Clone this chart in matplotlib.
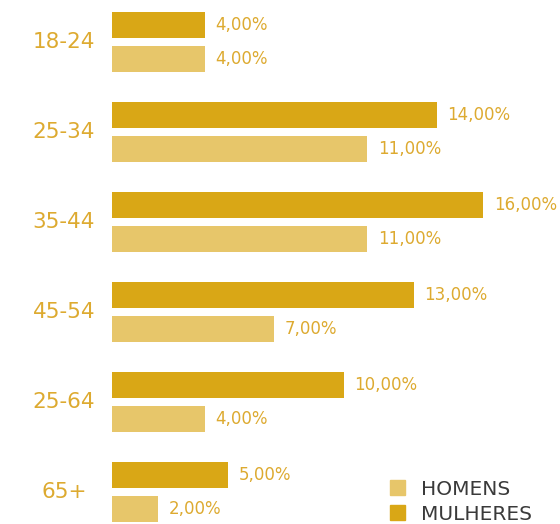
import numpy as np
import matplotlib.pyplot as plt
from matplotlib.patches import Patch
from matplotlib.transforms import blended_transform_factory

faixas = ["18-24", "25-34", "35-44", "45-54", "25-64", "65+"]
mulheres = [4.0, 14.0, 16.0, 13.0, 10.0, 5.0]
homens = [4.0, 11.0, 11.0, 7.0, 4.0, 2.0]

COR_M = "#D9A716"
COR_H = "#E7C66A"
COR_TXT = "#DDAA30"

plt.rcParams["font.family"] = ["DejaVu Sans"]

fig = plt.figure(figsize=(5.6, 5.24), dpi=100)
ax = fig.add_axes([112 / 560, 0, 448 / 560, 1])
ax.set_ylim(524, 0)
ax.set_xlim(0, 448 / 23.2)
ax.axis("off")

centros = 42 + 90 * np.arange(len(faixas))
ax.barh(centros - 17, mulheres, height=26, color=COR_M)
ax.barh(centros + 17, homens, height=26, color=COR_H)

for c, m, h in zip(centros, mulheres, homens):
    ax.text(m + 0.45, c - 17, f"{m:.2f}%".replace(".", ","), va="center",
            ha="left", fontsize=12, color=COR_TXT)
    ax.text(h + 0.45, c + 17, f"{h:.2f}%".replace(".", ","), va="center",
            ha="left", fontsize=12, color=COR_TXT)

trans = blended_transform_factory(fig.transFigure, ax.transData)
for c, f in zip(centros, faixas):
    fig.text(64 / 560, c, f, transform=trans, ha="center", va="center",
             fontsize=15.5, color=COR_TXT)

handles = [Patch(color=COR_H, label="HOMENS"), Patch(color=COR_M, label="MULHERES")]
fig.legend(handles=handles, loc="lower left", bbox_to_anchor=(372 / 560, -0.034),
           frameon=False, fontsize=14.5, handlelength=0.75, handleheight=0.75,
           handletextpad=0.8, labelspacing=0.3, labelcolor="#3a3a3a")

plt.savefig("out.png", dpi=100)
